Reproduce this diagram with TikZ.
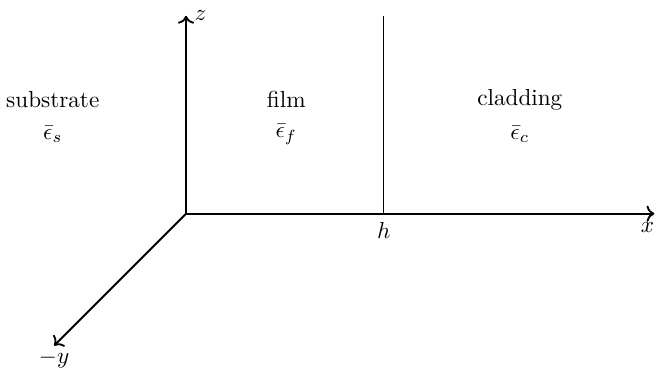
\documentclass[tikz,border=0pt]{standalone}
\usepackage{amsmath,amssymb}
\usetikzlibrary{arrows.meta,positioning}
\tikzset{
  axis/.style    = {->, thick},
  iface/.style   = {draw, thin},
  region/.style  = {align=center, inner sep=1pt},
  axlab/.style   = {inner sep=1.5pt},
}

\begin{document}
\begin{tikzpicture}[x=1cm,y=1cm]
\useasboundingbox (-2.82,-2.35) rectangle (7.14,3.24);
% ---- axes ----
\coordinate (O) at (0,0);
\coordinate (xend) at (7.1,0);
\coordinate (zend) at (0,3);
\coordinate (yend) at (-2,-2);
\draw[axis] (O) -- (xend) node[below,xshift=-3pt] (xlab) {$x$};
\draw[axis] (O) -- (zend) node[right] (zlab) {$z$};
\draw[axis] (O) -- (yend) node[axlab,below] (ylab) {$-y$};
% ---- film / cladding interface ----
\coordinate (hbot) at (3,0);
\coordinate (htop) at (3,3);
\draw[iface] (hbot) -- (htop);
\node[below] (hlab) at (hbot) {$h$};
% ---- layers ----
\node[region] (sub) at (-2.02,1.73) {substrate};
\node[region] (subeps) at (-2.02,1.2) {$\bar{\epsilon}_s$};
\node[region] (film) at (1.52,1.73) {film};
\node[region] (filmeps) at (1.52,1.2) {$\bar{\epsilon}_f$};
\node[region] (clad) at (5.06,1.73) {cladding};
\node[region] (cladeps) at (5.06,1.2) {$\bar{\epsilon}_c$};
\end{tikzpicture}
\end{document}
